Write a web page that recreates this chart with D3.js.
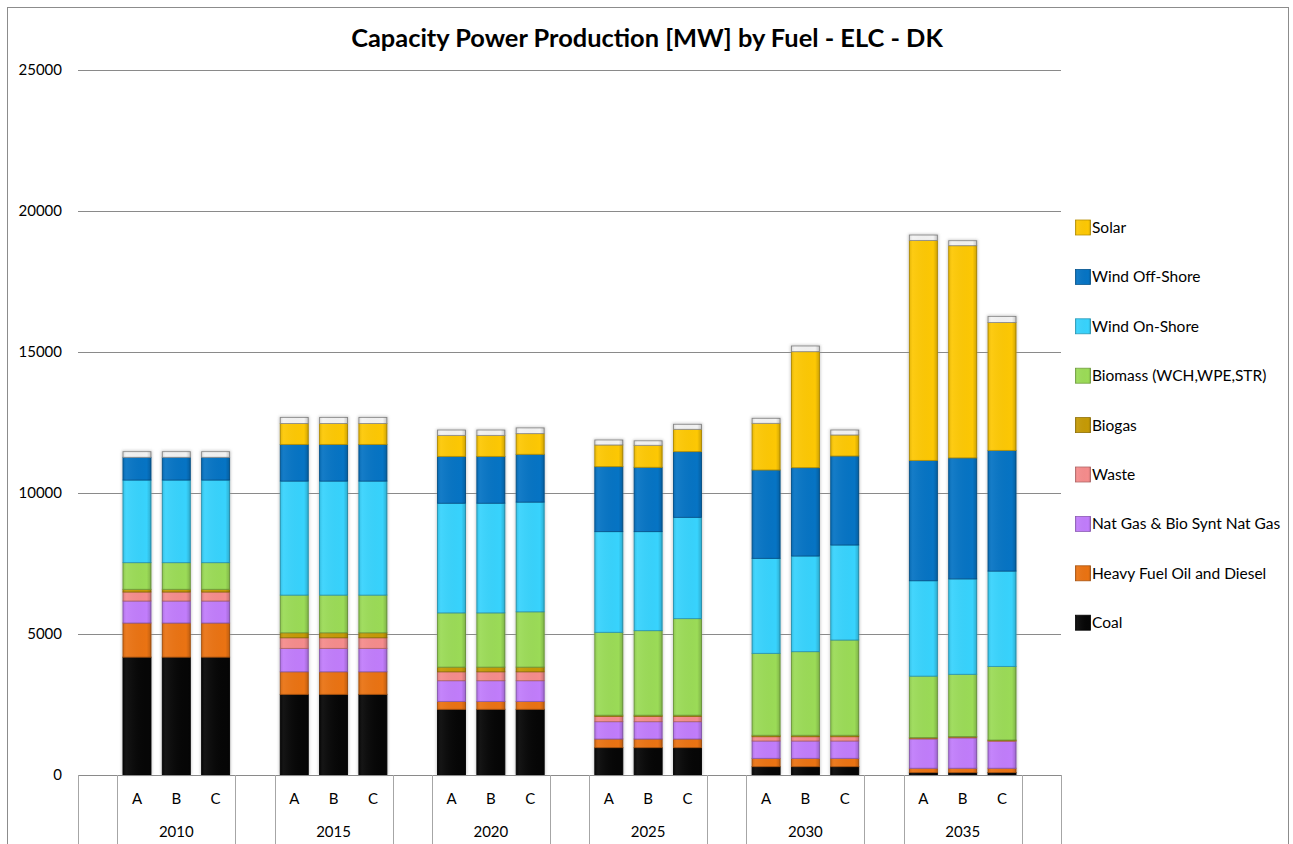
<!DOCTYPE html>
<html>
<head>
<meta charset="utf-8">
<script src="https://cdn.jsdelivr.net/npm/d3@7"></script>
<style>
  html, body { margin: 0; padding: 0; background: #ffffff; }
  svg { display: block; }
  text { font-family: Lato, "Open Sans", "DejaVu Sans", sans-serif; fill: #000; }
</style>
</head>
<body>
<svg id="chart" width="1293" height="844"></svg>
<script>
// Years and scenarios on the two-level category axis
const years = ["2010", "2015", "2020", "2025", "2030", "2035"];
const scenarios = ["A", "B", "C"];

// Installed capacity [MW] per fuel, ordered 2010 A,B,C, 2015 A,B,C, ...
const coal     = [4180,4180,4180, 2860,2860,2860, 2330,2330,2330, 970,970,970, 296,296,296, 90,90,90];
const hfo      = [1210,1210,1210, 800,800,800, 280,280,280, 307,307,307, 295,295,295, 150,150,150];
const natGas   = [780,780,780, 830,830,830, 734,734,734, 614,614,614, 615,615,615, 1039,1076,951];
const waste    = [320,320,320, 377,377,377, 316,316,316, 190,190,190, 153,153,153, 30,30,30];
const biogas   = [95,95,95, 176,176,176, 166,166,166, 40,40,40, 50,50,50, 20,20,20];
const biomass  = [945,945,945, 1337,1337,1337, 1923,1923,1961, 2939,2998,3424, 2905,2965,3378, 2177,2205,2610];
const onShore  = [2930,2930,2930, 4043,4043,4043, 3889,3889,3890, 3570,3511,3593, 3369,3392,3369, 3383,3383,3380];
const offShore = [806,806,806, 1300,1300,1300, 1660,1660,1695, 2305,2281,2329, 3133,3132,3156, 4267,4291,4280];
const solar    = [0,0,0, 743,743,743, 745,745,734, 768,780,791, 1654,4114,745, 7801,7525,4535];
const other    = [200,200,200, 214,214,214, 190,190,203, 177,160,178, 178,201,177, 191,177,216];

// Series names (bottom to top), the last one is not listed in the legend
const seriesNames = ["Coal", "Heavy Fuel Oil and Diesel", "Nat Gas & Bio Synt Nat Gas", "Waste",
  "Biogas", "Biomass (WCH,WPE,STR)", "Wind On-Shore", "Wind Off-Shore", "Solar", "Other"];
const seriesValues = [coal, hfo, natGas, waste, biogas, biomass, onShore, offShore, solar, other];
const seriesColors = ["#060606", "#ea7313", "#c17dfb", "#f58c8c", "#c59a06", "#9bdb57",
  "#38d3fd", "#0674c4", "#fdc804", "#f2f2f2"];
const legendNames = ["Solar", "Wind Off-Shore", "Wind On-Shore", "Biomass (WCH,WPE,STR)", "Biogas",
  "Waste", "Nat Gas & Bio Synt Nat Gas", "Heavy Fuel Oil and Diesel", "Coal"];
const yTicks = [0, 5000, 10000, 15000, 20000, 25000];

const titleText = "Capacity Power Production [MW] by Fuel - ELC - DK";

// Build one row per bar
const rows = [];
years.forEach((yr, i) => scenarios.forEach((sc, j) => {
  const k = i * 3 + j;
  const row = { year: yr, scenario: sc, slot: i * 4 + 1 + j };
  seriesNames.forEach((n, s) => row[n] = seriesValues[s][k]);
  rows.push(row);
}));

const svg = d3.select("#chart");
const plot = { left: 78, right: 1061, top: 70, bottom: 775 };
const nSlots = years.length * 4 + 1;

const x = d3.scaleBand().domain(d3.range(nSlots)).range([plot.left, plot.right])
  .paddingInner(0.288).paddingOuter(0.144);
const y = d3.scaleLinear().domain([0, 25000]).range([plot.bottom, plot.top]);
const color = d3.scaleOrdinal().domain(seriesNames).range(seriesColors);

// Gradients giving the bevelled look of the bars
const defs = svg.append("defs");
const shade = defs.append("linearGradient").attr("id", "shadeH").attr("x1", 0).attr("x2", 1).attr("y1", 0).attr("y2", 0);
shade.append("stop").attr("offset", "0").attr("stop-color", "#000").attr("stop-opacity", 0.10);
shade.append("stop").attr("offset", "0.12").attr("stop-color", "#fff").attr("stop-opacity", 0.06);
shade.append("stop").attr("offset", "0.85").attr("stop-color", "#000").attr("stop-opacity", 0.0);
shade.append("stop").attr("offset", "1").attr("stop-color", "#000").attr("stop-opacity", 0.18);
const blur = defs.append("filter").attr("id", "soft").attr("x", "-20%").attr("y", "-20%").attr("width", "140%").attr("height", "140%");
blur.append("feGaussianBlur").attr("stdDeviation", 1.6);

// Outer frame
svg.append("rect").attr("x", 7.5).attr("y", 7.5).attr("width", 1281).attr("height", 860)
  .attr("fill", "none").attr("stroke", "#8c8c8c").attr("stroke-width", 1);

// Title
svg.append("text").attr("x", 647).attr("y", 47).attr("text-anchor", "middle")
  .style("font-weight", "bold").style("font-size", "25.4px").text(titleText);

// Horizontal gridlines and value labels
svg.append("g").selectAll("line").data(yTicks).join("line")
  .attr("x1", plot.left).attr("x2", plot.right)
  .attr("y1", d => Math.round(y(d)) + 0.5).attr("y2", d => Math.round(y(d)) + 0.5)
  .attr("stroke", "#8a8a8a").attr("stroke-width", 1);
svg.append("g").selectAll("text").data(yTicks).join("text")
  .attr("x", 62).attr("y", d => y(d)).attr("dy", "0.35em").attr("text-anchor", "end")
  .style("font-size", "15px").text(d => d);

// Stacked bars
const stack = d3.stack().keys(seriesNames);
const layers = stack(rows);

const barG = svg.append("g");
// soft shadow behind each full bar
barG.append("g").selectAll("rect").data(rows).join("rect")
  .attr("x", d => x(d.slot) - 1).attr("width", x.bandwidth() + 2)
  .attr("y", d => y(d3.sum(seriesNames, n => d[n])) - 1)
  .attr("height", d => y(0) - y(d3.sum(seriesNames, n => d[n])) + 1)
  .attr("fill", "#9a9a9a").attr("opacity", 0.55).attr("filter", "url(#soft)");

layers.forEach(layer => {
  const c = color(layer.key);
  const g = barG.append("g");
  const segs = layer.filter(d => d[1] - d[0] > 0);
  g.selectAll("rect.fill").data(segs).join("rect").attr("class", "fill")
    .attr("x", d => x(d.data.slot)).attr("width", x.bandwidth())
    .attr("y", d => y(d[1])).attr("height", d => y(d[0]) - y(d[1]))
    .attr("fill", c)
    .attr("stroke", layer.key === "Other" ? "#8e8e8e" : d3.color(c).darker(0.9))
    .attr("stroke-width", 0.9);
  g.selectAll("rect.shade").data(segs).join("rect").attr("class", "shade")
    .attr("x", d => x(d.data.slot)).attr("width", x.bandwidth())
    .attr("y", d => y(d[1])).attr("height", d => y(d[0]) - y(d[1]))
    .attr("fill", "url(#shadeH)").attr("pointer-events", "none");
});

// Category axis line
svg.append("line").attr("x1", plot.left).attr("x2", plot.right)
  .attr("y1", plot.bottom + 0.5).attr("y2", plot.bottom + 0.5)
  .attr("stroke", "#8a8a8a");

// Group separators on the two-level axis
const step = x.step();
const sepIdx = [];
for (let i = 0; i <= years.length; i++) { sepIdx.push(i * 4); if (i * 4 + 1 <= nSlots) sepIdx.push(i * 4 + 1); }
svg.append("g").selectAll("line").data(sepIdx).join("line")
  .attr("x1", k => Math.round(plot.left + k * step) + 0.5)
  .attr("x2", k => Math.round(plot.left + k * step) + 0.5)
  .attr("y1", plot.bottom).attr("y2", 844)
  .attr("stroke", "#a6a6a6").attr("stroke-width", 1);

// Scenario labels
svg.append("g").selectAll("text").data(rows).join("text")
  .attr("x", d => x(d.slot) + x.bandwidth() / 2).attr("y", 799).attr("dy", "0.35em")
  .attr("text-anchor", "middle").style("font-size", "15px").text(d => d.scenario);

// Year labels
svg.append("g").selectAll("text").data(years).join("text")
  .attr("x", (d, i) => plot.left + (i * 4 + 2.5) * step).attr("y", 832).attr("dy", "0.35em")
  .attr("text-anchor", "middle").style("font-size", "15px").text(d => d);

// Legend
const legend = svg.append("g");
const legY0 = 227.5, legStep = 49.4;
legendNames.forEach((n, i) => {
  const gy = legY0 + i * legStep;
  const c = color(n);
  legend.append("rect").attr("x", 1075.5).attr("y", gy - 7.5).attr("width", 15).attr("height", 15)
    .attr("fill", c).attr("stroke", d3.color(c).darker(0.9)).attr("stroke-width", 0.8);
  legend.append("rect").attr("x", 1075.5).attr("y", gy - 7.5).attr("width", 15).attr("height", 15)
    .attr("fill", "url(#shadeH)");
  legend.append("text").attr("x", 1092).attr("y", gy).attr("dy", "0.36em")
    .style("font-size", "15.5px").text(n);
});
</script>
</body>
</html>
